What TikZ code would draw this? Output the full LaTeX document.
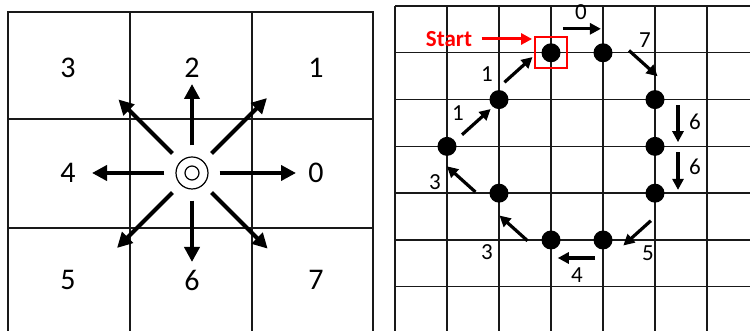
\documentclass[tikz,border=0pt]{standalone}
\usepackage{fontspec}
\setmainfont{Carlito}
\usetikzlibrary{arrows.meta, calc, positioning}

\begin{document}
\begin{tikzpicture}[x=1pt, y=1pt,
    gridline/.style={black!90, line width=1.4pt},
    bigarrow/.style={line width=4.2pt, -{Triangle[length=15pt, width=15pt]}},
    move/.style={line width=3.2pt, -{Triangle[length=11pt, width=11pt]}},
    dot/.style={circle, fill=black, inner sep=0pt, minimum size=19pt},
    bignum/.style={font=\fontsize{30}{30}\selectfont},
    smallnum/.style={font=\fontsize{23}{23}\selectfont}]

    \clip (0,0) rectangle (750,331);

    % Left grid (3x3 neighbourhood)
    \draw[gridline] (8,-2) -- (8,319) -- (373,319) -- (373,-2);
    \draw[gridline] (130,-2) -- (130,319);
    \draw[gridline] (252,-2) -- (252,319);
    \draw[gridline] (8,212) -- (373,212);
    \draw[gridline] (8,103) -- (373,103);

    % Direction codes
    \node[bignum] (d3) at (68,263) {3};
    \node[bignum] (d2) at (192,263) {2};
    \node[bignum] (d1) at (316,263) {1};
    \node[bignum] (d4) at (68,158) {4};
    \node[bignum] (d0) at (316,158) {0};
    \node[bignum] (d5) at (68,51) {5};
    \node[bignum] (d6) at (192,51) {6};
    \node[bignum] (d7) at (316,51) {7};

    % Centre pixel
    \node[circle, draw, line width=1.2pt, minimum size=32pt, inner sep=0pt] (c) at (192,158) {};
    \node[circle, draw, line width=1.2pt, minimum size=14pt, inner sep=0pt] (cin) at (c) {};

    % Eight directions
    \foreach \ang/\len in {0/104, 45/106, 90/89, 135/104, 180/100, 225/106, 270/89, 315/107} {
        \coordinate (t\ang) at ($(c)+(\ang:\len)$);
        \draw[bigarrow, shorten <=11pt] (c) -- (t\ang);
    }

    % Right grid
    \foreach \j in {0,...,6}
        \draw[gridline] (395,{325-46.8*\j}) -- (752,{325-46.8*\j});
    \foreach \i in {0,...,6}
        \draw[gridline] ({395+52*\i},325) -- ({395+52*\i},-2);

    % Boundary pixels
    \node[dot] (p0) at (551,278.2) {};
    \node[dot] (p1) at (603,278.2) {};
    \node[dot] (p2) at (655,231.4) {};
    \node[dot] (p3) at (655,184.6) {};
    \node[dot] (p4) at (655,137.8) {};
    \node[dot] (p5) at (603,91) {};
    \node[dot] (p6) at (551,91) {};
    \node[dot] (p7) at (499,137.8) {};
    \node[dot] (p8) at (447,184.6) {};
    \node[dot] (p9) at (499,231.4) {};

    % Start marker
    \node[draw=red, line width=1.8pt, minimum width=32pt, minimum height=31pt, inner sep=0pt] (startbox) at (p0) {};
    \node[red, font=\bfseries\fontsize{23}{23}\selectfont] (start) at (449,292) {Start};
    \draw[red, line width=3pt, -{Triangle[length=11pt, width=11pt]}, shorten <=6pt, shorten >=2pt]
        (start.east) -- (start.east -| startbox.west);

    % Chain code moves
    \draw[move] ($(p0)!.23!(p1)+(0,24)$) -- ($(p0)!.96!(p1)+(0,24)$);
    \draw[move] ($(p1)!.25!(p2)+(13,14)$) -- ($(p1)!.80!(p2)+(13,14)$);
    \draw[move] ($(p2)!.12!(p3)+(23,0)$) -- ($(p2)!.91!(p3)+(23,0)$);
    \draw[move] ($(p3)!.12!(p4)+(23,0)$) -- ($(p3)!.93!(p4)+(23,0)$);
    \draw[move] ($(p4)!.31!(p5)+(12,-13)$) -- ($(p4)!.84!(p5)+(12,-13)$);
    \draw[move] ($(p5)!.15!(p6)+(0,-18)$) -- ($(p5)!.87!(p6)+(0,-18)$);
    \draw[move] ($(p6)!.24!(p7)+(-11,-12)$) -- ($(p6)!.78!(p7)+(-11,-12)$);
    \draw[move] ($(p7)!.26!(p8)+(-10,-11)$) -- ($(p7)!.81!(p8)+(-10,-11)$);
    \draw[move] ($(p8)!.27!(p9)+(1,-1)$) -- ($(p8)!.82!(p9)+(1,-1)$);
    \draw[move] ($(p9)!.22!(p0)+(-6,7)$) -- ($(p9)!.76!(p0)+(-6,7)$);

    % Move labels
    \node[smallnum] (m0) at (581,319) {0};
    \node[smallnum] (m1) at (645,291) {7};
    \node[smallnum] (m2) at (695,209) {6};
    \node[smallnum] (m3) at (695,164) {6};
    \node[smallnum] (m4) at (648,78) {5};
    \node[smallnum] (m5) at (577,56) {4};
    \node[smallnum] (m6) at (487,79) {3};
    \node[smallnum] (m7) at (435,149) {3};
    \node[smallnum] (m8) at (458,218) {1};
    \node[smallnum] (m9) at (487,257) {1};

\end{tikzpicture}
\end{document}
